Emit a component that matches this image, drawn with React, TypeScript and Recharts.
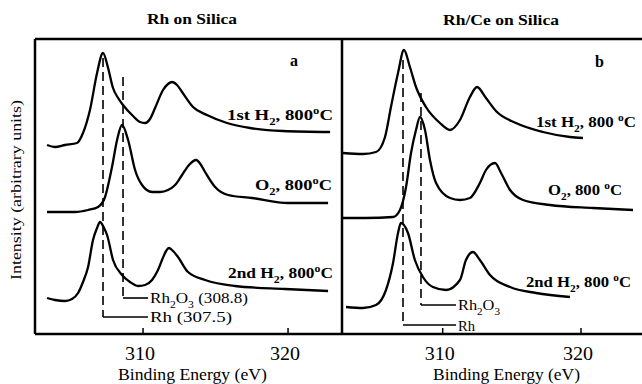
import React from 'react';
import { LineChart, Line, XAxis, YAxis, ReferenceLine } from 'recharts';

// ---------- data (binding energy in eV, intensity in arbitrary units) ----------
const tickValues = [310, 320];

const aFirstH2 = [
  { e: 303.38, v: 189 }, { e: 303.93, v: 187 }, { e: 304.62, v: 189 }, { e: 305.45, v: 191 },
  { e: 305.86, v: 201 }, { e: 306.34, v: 224 }, { e: 306.83, v: 261 }, { e: 307.24, v: 281 },
  { e: 307.59, v: 266 }, { e: 307.93, v: 246 }, { e: 308.28, v: 236 }, { e: 308.62, v: 229 },
  { e: 309.31, v: 218 }, { e: 309.79, v: 212 }, { e: 310.14, v: 211 }, { e: 310.48, v: 215 },
  { e: 310.83, v: 226 }, { e: 311.38, v: 244 }, { e: 311.72, v: 250 }, { e: 312.0, v: 252 },
  { e: 312.34, v: 249 }, { e: 312.69, v: 242 }, { e: 313.45, v: 227 }, { e: 314.41, v: 219 },
  { e: 315.79, v: 211 }, { e: 317.38, v: 206 }, { e: 319.66, v: 203 }, { e: 322.9, v: 202 },
];

const aO2 = [
  { e: 303.38, v: 122 }, { e: 304.28, v: 122 }, { e: 305.31, v: 122 }, { e: 306.21, v: 124 },
  { e: 306.9, v: 127 }, { e: 307.38, v: 137 }, { e: 307.86, v: 167 }, { e: 308.21, v: 194 },
  { e: 308.55, v: 209 }, { e: 308.97, v: 194 }, { e: 309.45, v: 164 }, { e: 309.93, v: 149 },
  { e: 310.62, v: 142 }, { e: 311.17, v: 142 }, { e: 311.72, v: 144 }, { e: 312.21, v: 149 },
  { e: 312.69, v: 159 }, { e: 313.17, v: 169 }, { e: 313.66, v: 174 }, { e: 314.0, v: 169 },
  { e: 314.28, v: 162 }, { e: 314.97, v: 147 }, { e: 315.86, v: 139 }, { e: 317.52, v: 136 },
  { e: 320.0, v: 131 }, { e: 322.76, v: 131 },
];

const aSecondH2 = [
  { e: 303.38, v: 36 }, { e: 303.93, v: 34 }, { e: 304.62, v: 33 }, { e: 305.1, v: 35 },
  { e: 305.52, v: 41 }, { e: 305.86, v: 52 }, { e: 306.21, v: 67 }, { e: 306.55, v: 94 },
  { e: 306.83, v: 106 }, { e: 307.03, v: 112 }, { e: 307.31, v: 106 }, { e: 307.52, v: 99 },
  { e: 307.93, v: 74 }, { e: 308.55, v: 59 }, { e: 309.1, v: 52 }, { e: 309.66, v: 48 },
  { e: 310.14, v: 49 }, { e: 310.62, v: 54 }, { e: 311.03, v: 64 }, { e: 311.31, v: 74 },
  { e: 311.59, v: 83 }, { e: 311.79, v: 86 }, { e: 312.07, v: 83 }, { e: 312.41, v: 77 },
  { e: 313.1, v: 62 }, { e: 314.28, v: 54 }, { e: 316.34, v: 48 }, { e: 319.79, v: 45 },
  { e: 322.76, v: 43 },
];

const bFirstH2 = [
  { e: 302.79, v: 181 }, { e: 304.24, v: 180 }, { e: 305.18, v: 182 }, { e: 305.83, v: 197 },
  { e: 306.26, v: 227 }, { e: 306.77, v: 261 }, { e: 307.2, v: 284 }, { e: 307.63, v: 267 },
  { e: 308.07, v: 247 }, { e: 308.79, v: 227 }, { e: 309.8, v: 211 }, { e: 310.53, v: 204 },
  { e: 311.25, v: 214 }, { e: 311.97, v: 237 }, { e: 312.48, v: 247 }, { e: 313.13, v: 236 },
  { e: 313.85, v: 223 }, { e: 315.3, v: 211 }, { e: 317.25, v: 202 }, { e: 319.2, v: 197 },
  { e: 320.14, v: 196 },
];

const bO2 = [
  { e: 302.79, v: 116 }, { e: 304.45, v: 116 }, { e: 306.41, v: 117 }, { e: 306.91, v: 124 },
  { e: 307.35, v: 147 }, { e: 307.71, v: 181 }, { e: 308.07, v: 204 }, { e: 308.36, v: 217 },
  { e: 308.72, v: 204 }, { e: 309.08, v: 174 }, { e: 309.52, v: 151 }, { e: 310.53, v: 136 },
  { e: 311.25, v: 134 }, { e: 311.97, v: 136 }, { e: 312.69, v: 151 }, { e: 313.13, v: 164 },
  { e: 313.78, v: 171 }, { e: 314.22, v: 161 }, { e: 314.87, v: 144 }, { e: 315.81, v: 134 },
  { e: 317.76, v: 129 }, { e: 320.87, v: 126 }, { e: 323.76, v: 124 },
];

const bSecondH2 = [
  { e: 303.01, v: 27 }, { e: 304.24, v: 26 }, { e: 305.18, v: 29 }, { e: 305.9, v: 44 },
  { e: 306.41, v: 71 }, { e: 306.77, v: 101 }, { e: 306.98, v: 111 }, { e: 307.49, v: 101 },
  { e: 307.99, v: 74 }, { e: 308.57, v: 57 }, { e: 309.29, v: 47 }, { e: 310.24, v: 44 },
  { e: 311.25, v: 54 }, { e: 311.68, v: 74 }, { e: 312.19, v: 82 }, { e: 312.69, v: 74 },
  { e: 313.42, v: 59 }, { e: 314.87, v: 47 }, { e: 316.75, v: 41 }, { e: 319.2, v: 37 },
];

// reference energies [eV]: position, top and bottom of dashed marker, end of bracket
const aRefRh = { e: 307.24, top: 276, bottom: 17, end: 310.34 };
const aRefRh2O3 = { e: 308.62, top: 257, bottom: 36, end: 310.34 };
const bRefRh = { e: 307.13, top: 274, bottom: 9, end: 310.96 };
const bRefRh2O3 = { e: 308.43, top: 241, bottom: 29, end: 310.96 };

const domainA: [number, number] = [302.55, 323.72];
const domainB: [number, number] = [302.72, 324.41];
const yDomain: [number, number] = [0, 295];

const FONT = "'Liberation Serif', 'Times New Roman', serif";

// ---------- helpers ----------
type Part = { t: string; k?: 'sub' | 'sup' };

function Rich({ x, y, parts, len, size, bold }: { x: number; y: number; parts: Part[]; len?: number; size: number; bold?: boolean }) {
  let cur = 0;
  const spans = parts.map((p, i) => {
    const target = p.k === 'sub' ? size * 0.3 : p.k === 'sup' ? -size * 0.4 : 0;
    const dy = target - cur;
    cur = target;
    return (
      <tspan key={i} dy={dy} fontSize={p.k ? size * 0.68 : size}>
        {p.t}
      </tspan>
    );
  });
  return (
    <text
      x={x}
      y={y}
      fontFamily={FONT}
      fontSize={size}
      fontWeight={bold ? 'bold' : 'normal'}
      fill="#000"
      textLength={len}
      lengthAdjust={len ? 'spacingAndGlyphs' : undefined}
    >
      {spans}
    </text>
  );
}

const Tick = (props: any) => {
  const { x, y, payload } = props;
  return (
    <g>
      <line x1={x} x2={x} y1={y} y2={y - 6} stroke="#000" strokeWidth={1.5} />
      <text x={x - 3} y={y + 26} textAnchor="middle" fontFamily={FONT} fontSize={19} fill="#000" textLength={30} lengthAdjust="spacingAndGlyphs">
        {payload.value}
      </text>
    </g>
  );
};

const frame = { stroke: '#000', strokeWidth: 2.5 };

function Panel({ width, marginLeft, domain, series, refs }: any) {
  return (
    <LineChart width={width} height={384} margin={{ top: 38, right: 0, bottom: 49, left: marginLeft - 1 }}>
      <XAxis
        type="number"
        dataKey="e"
        domain={domain}
        allowDataOverflow
        ticks={tickValues}
        height={1}
        tickSize={0}
        tickMargin={0}
        tickLine={false}
        axisLine={frame}
        tick={<Tick />}
        interval={0}
      />
      <XAxis
        xAxisId="top"
        orientation="top"
        type="number"
        dataKey="e"
        domain={domain}
        allowDataOverflow
        height={1}
        tick={false}
        tickLine={false}
        axisLine={frame}
      />
      <YAxis type="number" domain={yDomain} allowDataOverflow width={1} tick={false} tickLine={false} axisLine={frame} />
      {refs.map((r: any, i: number) => (
        <ReferenceLine
          key={'d' + i}
          segment={[{ x: r.e, y: r.top }, { x: r.e, y: r.bottom }]}
          stroke="#000"
          strokeWidth={1.6}
          strokeDasharray="9 5"
          ifOverflow="visible"
        />
      ))}
      {refs.map((r: any, i: number) => (
        <ReferenceLine
          key={'h' + i}
          segment={[{ x: r.e, y: r.bottom }, { x: r.end, y: r.bottom }]}
          stroke="#000"
          strokeWidth={1.6}
          ifOverflow="visible"
        />
      ))}
      {series.map((s: any, i: number) => (
        <Line
          key={i}
          data={s}
          dataKey="v"
          type="monotone"
          stroke="#000"
          strokeWidth={2.3}
          dot={false}
          activeDot={false}
          isAnimationActive={false}
        />
      ))}
    </LineChart>
  );
}

const h2first: Part[] = [{ t: '1st H' }, { t: '2', k: 'sub' }, { t: ', 800' }, { t: 'o', k: 'sup' }, { t: 'C' }];
const o2: Part[] = [{ t: 'O' }, { t: '2', k: 'sub' }, { t: ', 800' }, { t: 'o', k: 'sup' }, { t: 'C' }];
const h2second: Part[] = [{ t: '2nd H' }, { t: '2', k: 'sub' }, { t: ', 800' }, { t: 'o', k: 'sup' }, { t: 'C' }];
const h2firstB: Part[] = [{ t: '1st H' }, { t: '2', k: 'sub' }, { t: ', 800 ' }, { t: 'o', k: 'sup' }, { t: 'C' }];
const o2B: Part[] = [{ t: 'O' }, { t: '2', k: 'sub' }, { t: ', 800 ' }, { t: 'o', k: 'sup' }, { t: 'C' }];
const h2secondB: Part[] = [{ t: '2nd H' }, { t: '2', k: 'sub' }, { t: ', 800 ' }, { t: 'o', k: 'sup' }, { t: 'C' }];
const rh2o3Full: Part[] = [{ t: 'Rh' }, { t: '2', k: 'sub' }, { t: 'O' }, { t: '3', k: 'sub' }, { t: ' (308.8)' }];
const rh2o3: Part[] = [{ t: 'Rh' }, { t: '2', k: 'sub' }, { t: 'O' }, { t: '3', k: 'sub' }];

export default function App() {
  return (
    <div style={{ position: 'absolute', left: 0, top: 0, width: 642, height: 384, background: '#fff', overflow: 'hidden' }}>
      <div style={{ position: 'absolute', left: 0, top: 0 }}>
        <Panel width={342} marginLeft={35} domain={domainA} series={[aFirstH2, aO2, aSecondH2]} refs={[aRefRh, aRefRh2O3]} />
      </div>
      <div style={{ position: 'absolute', left: 330, top: 0 }}>
        <Panel width={312} marginLeft={12} domain={domainB} series={[bFirstH2, bO2, bSecondH2]} refs={[bRefRh, bRefRh2O3]} />
      </div>
      <svg width={642} height={384} style={{ position: 'absolute', left: 0, top: 0, pointerEvents: 'none' }}>
        <Rich x={147} y={24} parts={[{ t: 'Rh on Silica' }]} len={90} size={15} bold />
        <Rich x={443} y={25} parts={[{ t: 'Rh/Ce on Silica' }]} len={116} size={15} bold />
        <Rich x={290} y={66} parts={[{ t: 'a' }]} size={16} bold />
        <Rich x={595} y={67} parts={[{ t: 'b' }]} size={16} bold />
        <g transform="rotate(-90 21 280)">
          <Rich x={21} y={280} parts={[{ t: 'Intensity (arbitrary units)' }]} len={180} size={15} />
        </g>
        <Rich x={118} y={380} parts={[{ t: 'Binding Energy (eV)' }]} len={149} size={17} />
        <Rich x={433} y={380} parts={[{ t: 'Binding Energy (eV)' }]} len={147} size={17} />

        <Rich x={227} y={120} parts={h2first} len={106} size={15} bold />
        <Rich x={255} y={190} parts={o2} len={77} size={15} bold />
        <Rich x={228} y={278} parts={h2second} len={105} size={15} bold />
        <Rich x={536} y={127} parts={h2firstB} len={100} size={15} bold />
        <Rich x={548} y={195} parts={o2B} len={74} size={15} bold />
        <Rich x={526} y={287} parts={h2secondB} len={105} size={15} bold />

        <Rich x={150} y={303} parts={rh2o3Full} len={98} size={15} />
        <Rich x={150} y={322} parts={[{ t: 'Rh (307.5)' }]} len={82} size={15} />
        <Rich x={458} y={310} parts={rh2o3} len={42} size={15} />
        <Rich x={458} y={331} parts={[{ t: 'Rh' }]} len={17} size={15} />
      </svg>
    </div>
  );
}
